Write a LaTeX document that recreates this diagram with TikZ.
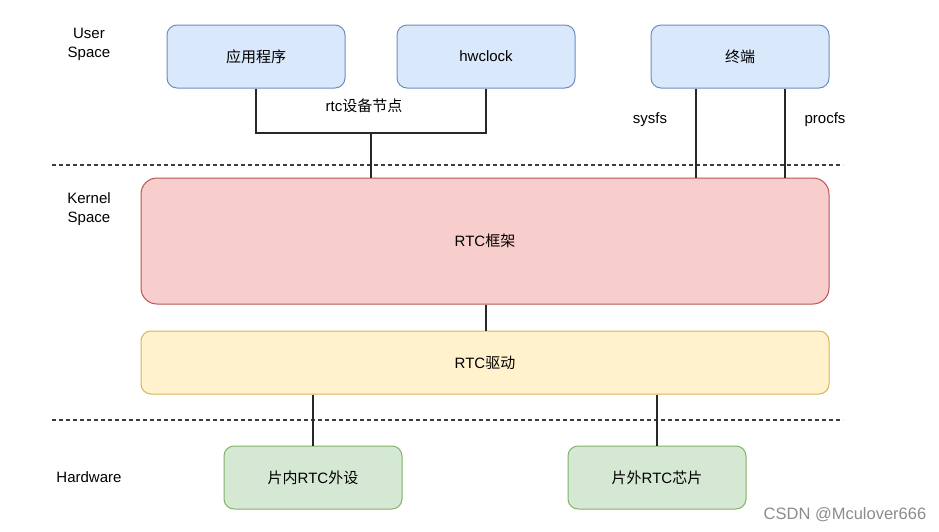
\documentclass[tikz,border=0pt]{standalone}
\usepackage{fontspec}
\setmainfont{Liberation Sans}
\newfontfamily\cjk{Noto Sans CJK SC}
\begin{document}
\begin{tikzpicture}[x=1pt,y=-1pt,
  font=\fontsize{15}{19}\selectfont,
  box/.style={draw, rounded corners=10pt, line width=1pt, align=center, inner sep=0pt},
  blue/.style={box, fill={rgb,255:red,218;green,232;blue,252}, draw={rgb,255:red,108;green,142;blue,191}},
  red/.style={box, fill={rgb,255:red,248;green,206;blue,204}, draw={rgb,255:red,184;green,84;blue,80}},
  yellow/.style={box, fill={rgb,255:red,255;green,242;blue,204}, draw={rgb,255:red,214;green,182;blue,86}},
  green/.style={box, fill={rgb,255:red,213;green,232;blue,212}, draw={rgb,255:red,130;green,179;blue,102}},
  conn/.style={draw={rgb,255:red,40;green,40;blue,40}, line width=1.3pt},
  sep/.style={draw={rgb,255:red,60;green,60;blue,60}, dashed, dash pattern=on 4pt off 3pt, line width=1.3pt},
  lbl/.style={align=center, inner sep=0pt}
]
\useasboundingbox (0,0) rectangle (939,531);
% boxes
\node[blue, minimum width=178pt, minimum height=63pt] (app) at (256,56.5) {\cjk 应用程序};
\node[blue, minimum width=178pt, minimum height=63pt] (hw) at (486,56.5) {hwclock};
\node[blue, minimum width=178pt, minimum height=63pt] (term) at (740,56.5) {\cjk 终端};
\node[red, minimum width=688pt, minimum height=126pt, rounded corners=16pt] (fw) at (485,241) {RTC{\cjk 框架}};
\node[yellow, minimum width=688pt, minimum height=63pt] (drv) at (485,362.5) {RTC{\cjk 驱动}};
\node[green, minimum width=178pt, minimum height=63pt] (in) at (313,477.5) {{\cjk 片内}RTC{\cjk 外设}};
\node[green, minimum width=178pt, minimum height=63pt] (out) at (657,477.5) {{\cjk 片外}RTC{\cjk 芯片}};
% labels
\node[lbl] (us) at (89,44) {User\\Space};
\node[lbl] (ks) at (89,209) {Kernel\\Space};
\node[lbl] (hwl) at (89,477) {Hardware};
\node[lbl] (node) at (364,106) {rtc{\cjk 设备节点}};
\node[lbl] (sysfs) at (650,120) {sysfs};
\node[lbl] (procfs) at (825,120) {procfs};
\node[lbl, font=\fontsize{16.5}{19}\selectfont, text={rgb,255:red,140;green,140;blue,140}] (wm) at (845,515) {CSDN @Mculover666};
% separators
\coordinate (s1a) at (52,165); \coordinate (s1b) at (843,165);
\coordinate (s2a) at (52,420); \coordinate (s2b) at (843,420);
\draw[sep] (s1a) -- (s1b);
\draw[sep] (s2a) -- (s2b);
% connectors
\coordinate (j) at (371,133);
\draw[conn] (app.south) |- (j) -| (hw.south);
\draw[conn] (j) -- (j |- fw.north);
\draw[conn] (term.south -| 696,0) -- (fw.north -| 696,0);
\draw[conn] (term.south -| 785,0) -- (fw.north -| 785,0);
\draw[conn] (fw.south -| 486,0) -- (drv.north -| 486,0);
\draw[conn] (in.north |- drv.south) -- (in.north);
\draw[conn] (out.north |- drv.south) -- (out.north);
\end{tikzpicture}
\end{document}
